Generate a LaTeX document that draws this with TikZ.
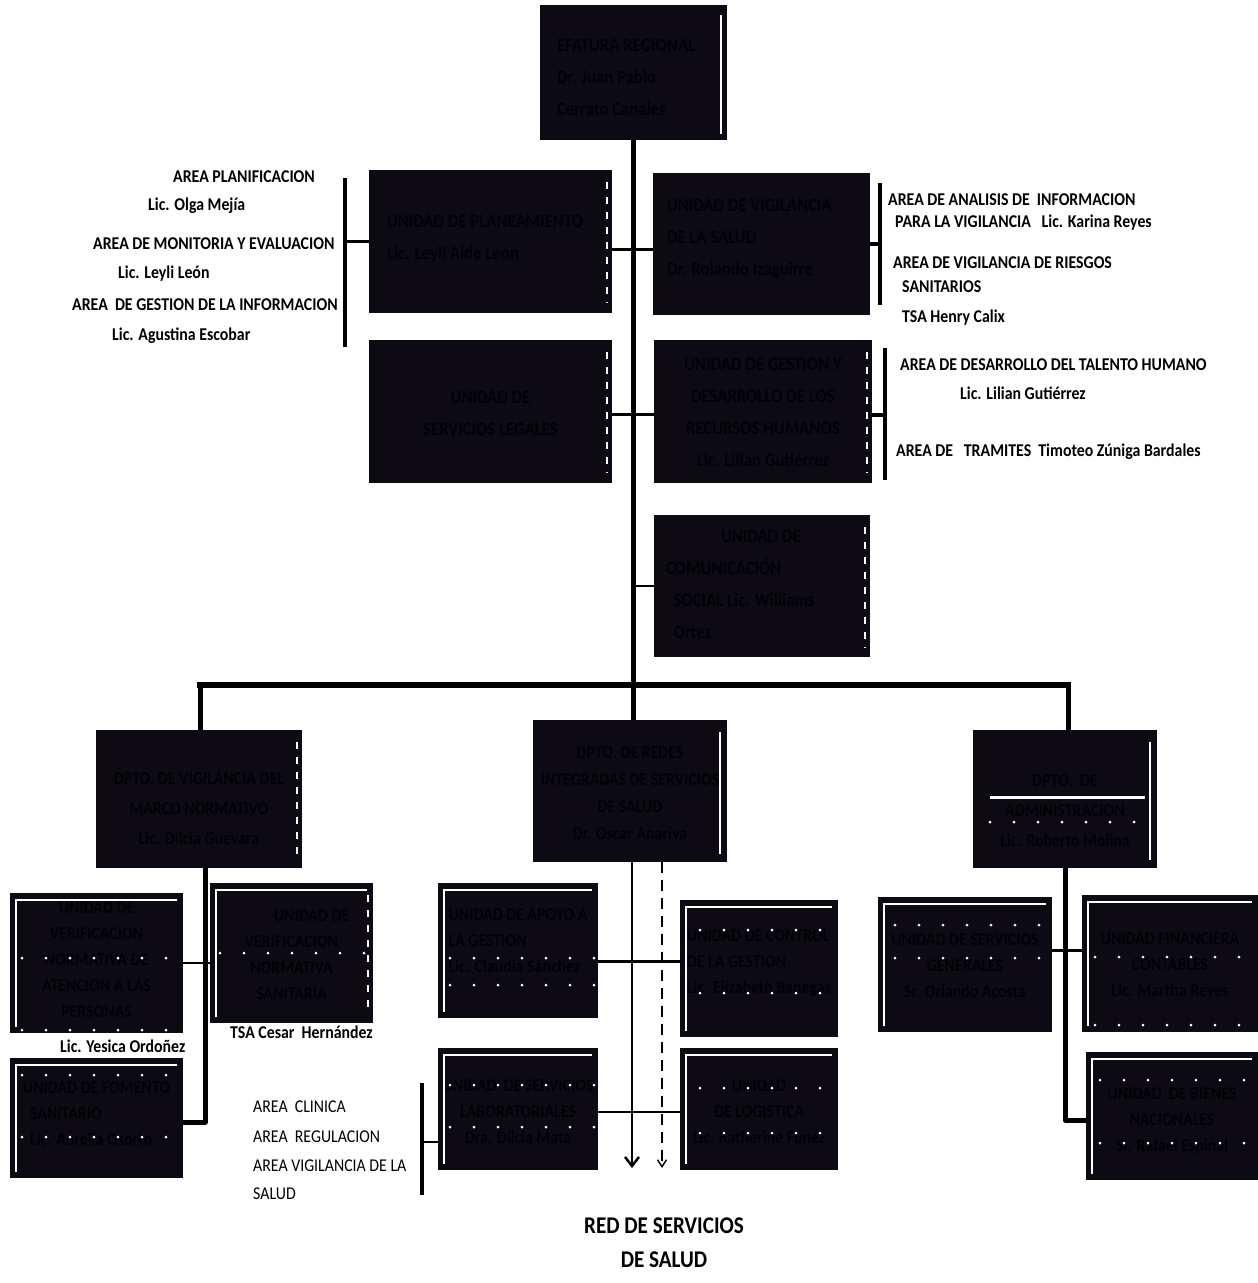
\documentclass[tikz,border=0pt]{standalone}
\usepackage{fontspec}
\setmainfont{Carlito}
\newfontfamily\cnd[FakeStretch=0.88]{Carlito}
\usetikzlibrary{arrows.meta,calc}
\definecolor{boxbg}{RGB}{14,10,20}
\definecolor{boxtx}{RGB}{2,2,4}
\begin{document}
\begin{tikzpicture}[x=1pt,y=-1pt,
 box/.style={fill=boxbg, draw=none, inner sep=0pt},
 btx/.style={inner sep=0pt, text=boxtx, font=\cnd\bfseries\fontsize{19}{32}\selectfont, align=center},
 ltx/.style={btx, font=\cnd\bfseries\fontsize{18}{26}\selectfont},
 lbl/.style={anchor=west, inner sep=0pt, font=\cnd\bfseries\fontsize{18}{22}\selectfont},
 lblr/.style={anchor=west, inner sep=0pt, font=\cnd\fontsize{18}{22}\selectfont},
 big/.style={inner sep=0pt, font=\cnd\bfseries\fontsize{24}{34}\selectfont, align=center},
 trunk/.style={line width=5pt},
 bus/.style={line width=6pt},
 conn/.style={line width=2.5pt},
 brk/.style={line width=4pt},
 wline/.style={white, line width=2.2pt},
 wdash/.style={white, line width=2.5pt, dash pattern=on 7pt off 8pt},
 wdots/.style={white, line width=3pt, line cap=round, dash pattern=on 0pt off 24pt},
]
\fill[white] (0,0) rectangle (1258,1283);
\useasboundingbox (0,0) rectangle (1258,1283);

% ---------- upper boxes ----------
\node[box, minimum width=187, minimum height=135] (jef) at (633.5,72.5) {};
\node[box, minimum width=243, minimum height=143] (plan) at (490.5,241.5) {};
\node[box, minimum width=217, minimum height=142] (vig) at (761.5,244) {};
\node[box, minimum width=243, minimum height=143] (leg) at (490.5,411.5) {};
\node[box, minimum width=218, minimum height=143] (ges) at (763,411.5) {};
\node[box, minimum width=216, minimum height=142] (com) at (762,586) {};
% ---------- departments ----------
\node[box, minimum width=206, minimum height=138] (dvig) at (199,799) {};
\node[box, minimum width=194, minimum height=142] (dred) at (630,791) {};
\node[box, minimum width=184, minimum height=138] (dadm) at (1065,799) {};
% ---------- lower units ----------
\node[box, minimum width=173, minimum height=140] (uver1) at (96.5,963) {};
\node[box, minimum width=163, minimum height=140] (uver2) at (291.5,953) {};
\node[box, minimum width=173, minimum height=120] (ufom) at (96.5,1118) {};
\node[box, minimum width=160, minimum height=135] (uapo) at (518,950.5) {};
\node[box, minimum width=158, minimum height=137] (uctl) at (759,968.5) {};
\node[box, minimum width=160, minimum height=122] (ulab) at (518,1109) {};
\node[box, minimum width=158, minimum height=122] (ulog) at (759,1109) {};
\node[box, minimum width=174, minimum height=135] (usg) at (965,964.5) {};
\node[box, minimum width=176, minimum height=137] (ufin) at (1170,963.5) {};
\node[box, minimum width=172, minimum height=128] (ubie) at (1172,1116) {};

% ---------- box texts ----------
\node[btx, align=left, anchor=west] (jef-t) at ([xshift=17,yshift=-5]jef.west) {EFATURA REGIONAL\\Dr. Juan Pablo\\Cerrato Canales};
\node[btx, align=left, anchor=west] (plan-t) at ([xshift=18,yshift=3]plan.west) {UNIDAD DE PLANEAMIENTO\\Lic. Leyli Aide Leon};
\node[btx, align=left, anchor=west] (vig-t) at ([xshift=14,yshift=5]vig.west) {UNIDAD DE VIGILANCIA\\DE LA SALUD\\Dr. Rolando Izaguirre};
\node[btx] (leg-t) at ([yshift=-2]leg.center) {UNIDAD DE\\SERVICIOS LEGALES};
\node[btx] (ges-t) at ([yshift=-1]ges.center) {UNIDAD DE GESTION Y\\DESARROLLO DE LOS\\RECURSOS HUMANOS\\Lic. Lilian Gutiérrez};
\node[btx, align=left, anchor=west] (com-t) at ([xshift=12,yshift=2]com.west) {\hspace*{55pt}UNIDAD DE\\COMUNICACIÓN\\\ \ SOCIAL Lic. Williams\\\ \ Ortez};
\node[btx, font=\cnd\bfseries\fontsize{18}{30}\selectfont] (dvig-t) at ([yshift=-10]dvig.center) {DPTO. DE VIGILANCIA DEL\\MARCO NORMATIVO\\Lic. Dilcia Guevara};
\node[btx, font=\cnd\bfseries\fontsize{18}{27}\selectfont] (dred-t) at ([yshift=-2]dred.center) {DPTO. DE REDES\\INTEGRADAS DE SERVICIOS\\DE SALUD\\Dr. Oscar Anariva};
\node[btx, font=\cnd\bfseries\fontsize{18}{30}\selectfont] (dadm-t) at ([yshift=-12]dadm.center) {DPTO.\ \ DE\\ADMINISTRACION\\Lic. Roberto Molina};
\node[ltx] (uver1-t) at ([yshift=3]uver1.center) {UNIDAD DE\\VERIFICACION\\NORMATIVA DE\\ATENCION A LAS\\PERSONAS};
\node[ltx] (uver2-t) at ([yshift=-2]uver2.center) {\hspace*{40pt}UNIDAD DE\\VERIFICACION\\NORMATIVA\\SANITARIA};
\node[ltx, align=left] (ufom-t) at ([yshift=4]ufom.center) {UNIDAD DE FOMENTO\\\ \ SANITARIO\\\ \ Lic. Aurelia Osorto};
\node[ltx, align=left] (uapo-t) at ([yshift=10]uapo.center) {UNIDAD DE APOYO A\\LA GESTION\\Lic. Claudia Sánchez};
\node[ltx, align=left] (uctl-t) at ([yshift=5]uctl.center) {UNIDAD DE CONTROL\\DE LA GESTION\\Lic. Elizabeth Banegas};
\node[ltx] (ulab-t) at ([yshift=-3]ulab.center) {UNIDAD\ \ DE SERVICIOS\\LABORATORIALES\\Dra. Dilcia Mata};
\node[ltx] (ulog-t) at ([yshift=-3]ulog.center) {UNIDAD\\DE LOGISTICA\\Lic. Katherine Funez};
\node[ltx] (usg-t) at ([yshift=-1]usg.center) {UNIDAD DE SERVICIOS\\GENERALES\\Sr. Orlando Acosta};
\node[ltx] (ufin-t) at ([yshift=-2]ufin.center) {UNIDAD FINANCIERA\\CONTABLES\\Lic. Martha Reyes};
\node[ltx] (ubie-t) at ([yshift=-5]ubie.center) {UNIDAD\ \ DE BIENES\\NACIONALES\\Sr. Rafael Espinal};

% ---------- white decorations ----------
\draw[wline] ([xshift=-6,yshift=-10]jef.north east) -- ([xshift=-6,yshift=6]jef.south east);
\foreach \b in {plan,leg,ges,com,dvig,uver2}{
  \draw[wdash] ([xshift=-5,yshift=-12]\b.north east) -- ([xshift=-5,yshift=10]\b.south east);
}
\draw[wline] ([xshift=-7,yshift=-12]dred.north east) -- ([xshift=-7,yshift=8]dred.south east);
\draw[wline] ([xshift=-7,yshift=-12]dadm.north east) -- ([xshift=-7,yshift=8]dadm.south east);
\draw[white, line width=3pt] (990,797) -- (1145,797);
\draw[wdots] (990,822) -- (1150,822);
\foreach \b in {uver1,uver2,ufom,uapo,uctl,ulab,ulog,usg,ufin,ubie}{
  \draw[wline] ([xshift=6,yshift=6]\b.south west) -- ([xshift=6,yshift=-7]\b.north west) -- ([xshift=-6,yshift=-7]\b.north east);
}
\draw[wdots] (22,958) -- (180,958);
\draw[wdots] (22,1030) -- (180,1030);
\draw[wdots] (22,1075) -- (180,1075);
\draw[wdots] (22,1137) -- (180,1137);
\draw[wdots] (220,953) -- (370,953);
\draw[wdots] (450,958) -- (595,958);
\draw[wdots] (450,985) -- (595,985);
\draw[wdots] (450,1085) -- (595,1085);
\draw[wdots] (450,1127) -- (595,1127);
\draw[wdots] (700,930) -- (820,930);
\draw[wdots] (700,993) -- (835,993);
\draw[wdots] (700,1088) -- (835,1088);
\draw[wdots] (700,1133) -- (835,1133);
\draw[wdots] (895,925) -- (1050,925);
\draw[wdots] (895,958) -- (1050,958);
\draw[wdots] (1095,957) -- (1255,957);
\draw[wdots] (1095,1025) -- (1255,1025);
\draw[wdots] (1100,1080) -- (1255,1080);
\draw[wdots] (1100,1143) -- (1255,1143);

% ---------- connectors ----------
\draw[trunk] (jef.south) -- (jef.south |- dred.north);
\draw[conn] ([yshift=-8]plan.east) -- ([yshift=-8]plan.east -| vig.west);
\draw[conn] ([yshift=-3]leg.east) -- ([yshift=-3]leg.east -| ges.west);
\draw[conn] (jef.south |- com.west) -- (com.west);

\coordinate (busL) at (200,685);
\coordinate (busR) at (1068,685);
\draw[bus] ([xshift=-3]busL) -- ([xshift=3]busR);
\draw[trunk] (busL) -- (busL |- dvig.north);
\draw[trunk] (busR) -- (busR |- dadm.north);

% brackets upper
\coordinate (lbT) at (345,178);
\coordinate (lbB) at (345,347);
\draw[brk] (lbT) -- (lbB);
\draw[conn] (lbT |- plan.west) -- (plan.west);
\coordinate (rbT) at (880,183);
\coordinate (rbB) at (880,305);
\draw[brk] (rbT) -- (rbB);
\draw[brk] (vig.east) -- (vig.east -| rbT);
\coordinate (gbT) at (885,348);
\coordinate (gbB) at (885,480);
\draw[brk] (gbT) -- (gbB);
\draw[brk] ([yshift=-3]ges.east) -- ([yshift=-3]ges.east -| gbT);

% left department
\coordinate (dvL) at (205,1122);
\draw[trunk, line join=round] (dvig.south -| dvL) -- (dvL) -- (dvL -| ufom.east);
\draw[conn] (uver1.east) -- (uver1.east -| uver2.west);

% middle department
\coordinate (redA) at (632,1168);
\coordinate (redB) at (662,1168);
\draw[line width=2.8pt, -{Straight Barb[length=9pt,width=14pt,line width=2.5pt]}] (dred.south -| redA) -- (redA);
\draw[line width=1.6pt, dash pattern=on 11pt off 7pt, -{Straight Barb[length=7pt,width=9pt,line width=1.4pt]}] (dred.south -| redB) -- (redB);
\draw[conn] ([yshift=-11]uapo.east) -- ([yshift=-11]uapo.east -| uctl.west);
\draw[conn] ([yshift=-3]ulab.east) -- ([yshift=-3]ulab.east -| ulog.west);
\coordinate (lbT2) at (422,1083);
\coordinate (lbB2) at (422,1195);
\draw[brk] (lbT2) -- (lbB2);
\draw[conn] (422,1142) coordinate (lbM2) -- (lbM2 -| ulab.west);

% right department
\coordinate (daB) at (1065,1120);
\draw[trunk, line join=round] (dadm.south) -- (daB) -- (daB -| ubie.west);
\draw[conn] ([yshift=14]usg.east) -- ([yshift=14]usg.east -| ufin.west);

% ---------- labels ----------
\node[lbl] (l1) at (173,177) {AREA PLANIFICACION};
\node[lbl] (l2) at (148,206) {Lic. Olga Mejía};
\node[lbl] (l3) at (93,244) {AREA DE MONITORIA Y EVALUACION};
\node[lbl] (l4) at (118,274) {Lic. Leyli León};
\node[lbl] (l5) at (72,305) {AREA\ \ DE GESTION DE LA INFORMACION};
\node[lbl] (l6) at (112,336) {Lic. Agustina Escobar};

\node[lbl] (r1) at (888,200) {AREA DE ANALISIS DE\ \ INFORMACION};
\node[lbl] (r2) at (895,223) {PARA LA VIGILANCIA\ \ \ Lic. Karina Reyes};
\node[lbl] (r3) at (893,263) {AREA DE VIGILANCIA DE RIESGOS};
\node[lbl] (r4) at (902,287) {SANITARIOS};
\node[lbl] (r5) at (902,318) {TSA Henry Calix};
\node[lbl] (r6) at (900,365) {AREA DE DESARROLLO DEL TALENTO HUMANO};
\node[lbl] (r7) at (960,393) {Lic. Lilian Gutiérrez};
\node[lbl] (r8) at (896,452) {AREA DE\ \ \ TRAMITES\ \ Timoteo Zúniga Bardales};

\node[lbl] (b1) at (60,1046) {Lic. Yesica Ordoñez};
\node[lbl] (b2) at (230,1032) {TSA Cesar\ \ Hernández};
\node[lblr] (b3) at (253,1107) {AREA\ \ CLINICA};
\node[lblr] (b4) at (253,1137) {AREA\ \ REGULACION};
\node[lblr] (b5) at (253,1166) {AREA VIGILANCIA DE LA};
\node[lblr] (b6) at (253,1194) {SALUD};

\node[big] (red) at (664,1243) {RED DE SERVICIOS\\DE SALUD};
\end{tikzpicture}
\end{document}
